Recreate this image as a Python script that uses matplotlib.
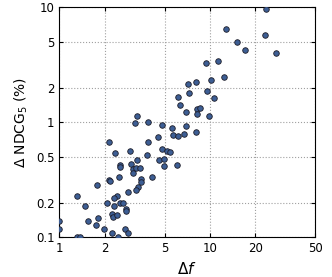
import matplotlib
matplotlib.use("Agg")
import matplotlib.pyplot as plt

# change in f vs change in NDCG@5 (%)
delta_f = [23.6, 12.8, 23.1, 15.1, 17.0, 27.5, 9.42, 11.3, 8.05, 7.10,
           10.2, 12.5, 7.24, 9.52, 10.6, 6.15, 6.37, 6.97, 8.25, 8.59,
           8.17, 9.86, 3.26, 3.18, 3.88, 4.82, 5.64, 5.67, 6.18, 6.75,
           6.99, 8.09, 2.12, 2.35, 2.95, 3.80, 4.52, 3.88, 4.78, 5.16,
           5.40, 2.97, 3.29, 2.51, 2.54, 3.07, 3.06, 3.25, 3.43, 4.57,
           4.93, 4.94, 6.09, 4.10, 3.49, 3.47, 3.34, 3.21, 2.86, 2.50,
           2.12, 2.16, 1.78, 1.31, 2.40, 2.29, 2.29, 2.08, 2.53, 2.66,
           1.49, 2.77, 2.78, 2.22, 2.26, 2.43, 1.81, 1.56, 1.74, 1.98,
           2.22, 2.72, 2.87, 1.00, 1.00, 1.31, 1.37, 2.46]
delta_ndcg = [9.64, 6.50, 5.76, 4.98, 4.27, 4.04, 3.31, 3.44, 2.27, 2.17,
              2.35, 2.48, 1.81, 1.89, 1.63, 1.67, 1.41, 1.24, 1.31, 1.34,
              1.19, 1.13, 1.14, 0.984, 1.01, 0.957, 0.889, 0.782, 0.762, 0.788,
              0.940, 0.820, 0.679, 0.545, 0.564, 0.526, 0.742, 0.671, 0.590, 0.566,
              0.553, 0.436, 0.471, 0.424, 0.413, 0.393, 0.365, 0.403, 0.405, 0.469,
              0.476, 0.415, 0.424, 0.336, 0.325, 0.306, 0.276, 0.256, 0.247, 0.336,
              0.315, 0.307, 0.287, 0.228, 0.229, 0.218, 0.188, 0.198, 0.198, 0.198,
              0.188, 0.178, 0.168, 0.160, 0.149, 0.157, 0.148, 0.138, 0.128, 0.119,
              0.109, 0.119, 0.109, 0.139, 0.119, 0.100, 0.100, 0.100]

xticks = [1, 2, 5, 10, 20, 50]
yticks = [0.1, 0.2, 0.5, 1, 2, 5, 10]
xticklabels = ["1", "2", "5", "10", "20", "50"]
yticklabels = ["0.1", "0.2", "0.5", "1", "2", "5", "10"]

fig = plt.figure(figsize=(3.32, 2.77), dpi=100)
ax = fig.add_axes([0.179, 0.143, 0.77, 0.83])

ax.scatter(delta_f, delta_ndcg, s=16, c="#3d5e94", edgecolors="#1c1c28",
           linewidths=0.6, zorder=3)

ax.set_xscale("log")
ax.set_yscale("log")
ax.set_xlim(1, 50)
ax.set_ylim(0.1, 10)
ax.set_xticks(xticks)
ax.set_xticklabels(xticklabels)
ax.set_yticks(yticks)
ax.set_yticklabels(yticklabels)
ax.minorticks_off()
ax.tick_params(direction="in", top=True, right=True, labelsize=8.5, length=3)
ax.grid(True, linestyle=":", color="#a0a0a0", linewidth=0.8)

ax.set_xlabel(r"$\Delta f$", fontsize=11)
ax.set_ylabel(r"$\Delta$ NDCG$_5$ (%)", fontsize=10)

fig.savefig("out.png", dpi=100)
